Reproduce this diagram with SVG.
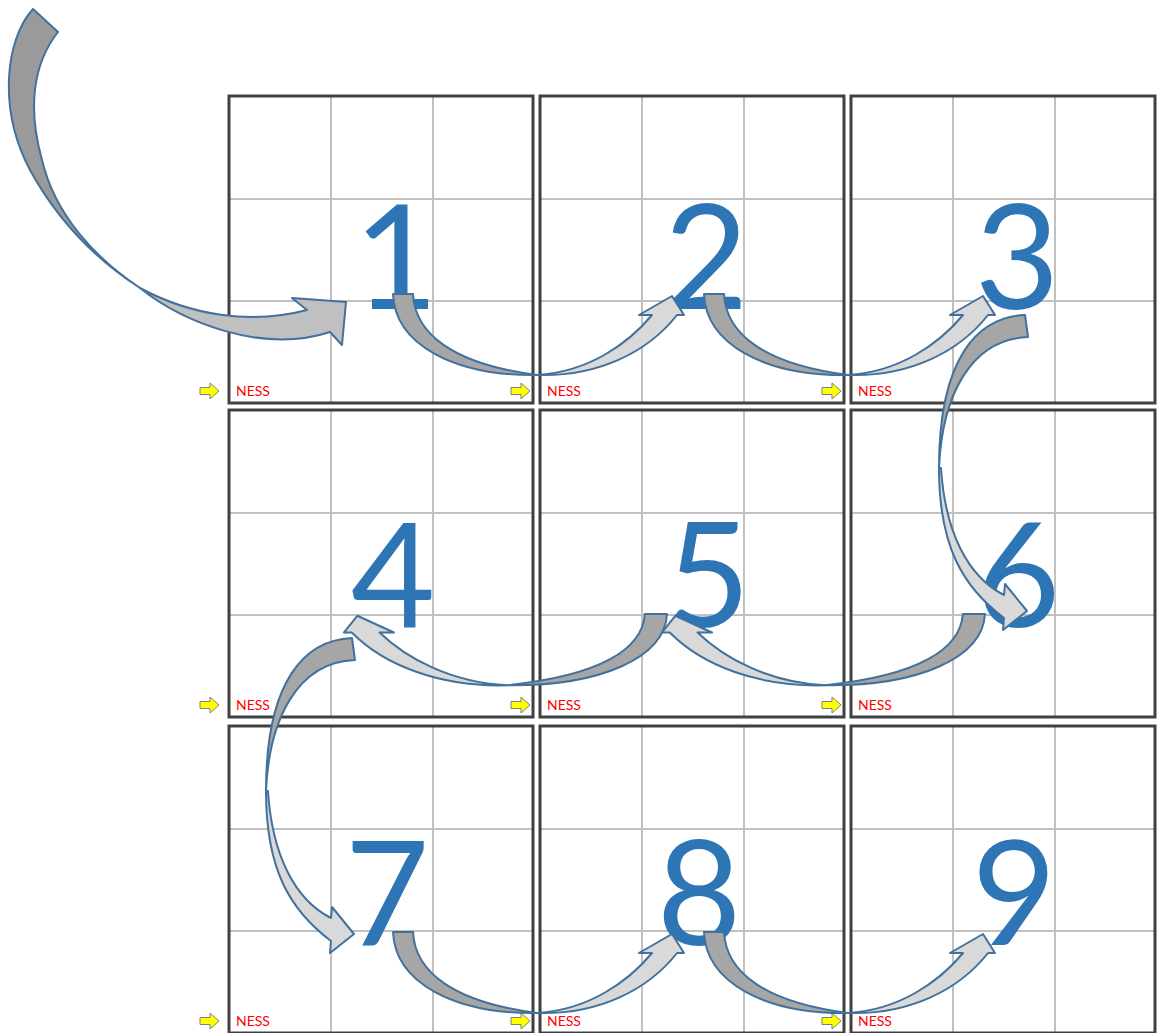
<svg xmlns="http://www.w3.org/2000/svg" width="1159" height="1033" viewBox="0 0 1159 1033">
<defs>
<style>
.grid{stroke:#c0c0c0;stroke-width:2;fill:none}
.border{stroke:#404040;stroke-width:3;fill:none}
.num{font-family:Lato,"Open Sans",sans-serif;font-size:146px;fill:#2e75b6;text-anchor:middle}
.ness{font-family:Lato,"Liberation Sans",sans-serif;font-size:14px;fill:#ff0000}
.ya{fill:#ffff00;stroke:#7f7f7f;stroke-width:1}
.dk{fill:#a6a6a6;stroke:#41719c;stroke-width:2;stroke-linejoin:round}
.lt{fill:#d9d9d9;stroke:#41719c;stroke-width:2;stroke-linejoin:round}
.dkA{fill:#9a9a9a;stroke:#41719c;stroke-width:2;stroke-linejoin:round}
.ltA{fill:#c0c0c0;stroke:#41719c;stroke-width:2;stroke-linejoin:round}
</style>
<g id="boxbase">
<path class="grid" d="M102,0V307M204,0V307M0,103H304M0,205H304"/>
<rect class="border" x="0" y="0" width="304" height="307"/>
<path class="ya" d="M-29,291.5h10v-4.5l9,8l-9,8v-4.5h-10z"/>
<text class="ness" x="7" y="300">NESS</text>
</g>
<g id="uarrow">
<path class="dk" vector-effect="non-scaling-stroke" d="M0,0 C2,50 60,82 144,81 C60,70 22,40 20,0 Z"/>
<path class="lt" vector-effect="non-scaling-stroke" d="M144,81 C205,83 255,58 284,21 L291,21 L279,2 L246,21 L259,21 C235,50 195,78 144,81 Z"/>
</g>
<g id="carrow">
<path class="dk" d="M0,0 C-47,2 -86,42 -86,153 C-83,82 -55,24 3,22 Z"/>
<path class="lt" d="M-86,153 C-86,232 -62,272 -21,303 L-22,315 L2,296 L-20,269 L-21,280 C-57,262 -80,217 -84,153 Z"/>
</g>
</defs>
<rect width="1159" height="1033" fill="#ffffff"/>
<g id="node1"><use href="#boxbase" x="229" y="96"/><text class="num" x="396" y="309">1</text></g>
<g id="node2"><use href="#boxbase" x="540" y="96"/><text class="num" x="706" y="309">2</text></g>
<g id="node3"><use href="#boxbase" x="851" y="96"/><text class="num" x="1017" y="309">3</text></g>
<g id="node4"><use href="#boxbase" x="229" y="410"/><text class="num" x="393" y="627">4</text></g>
<g id="node5"><use href="#boxbase" x="540" y="410"/><text class="num" x="708" y="627">5</text></g>
<g id="node6"><use href="#boxbase" x="851" y="410"/><text class="num" x="1018" y="627">6</text></g>
<g id="node7"><use href="#boxbase" x="229" y="726"/><text class="num" x="387" y="945">7</text></g>
<g id="node8"><use href="#boxbase" x="540" y="726"/><text class="num" x="699" y="945">8</text></g>
<g id="node9"><use href="#boxbase" x="851" y="726"/><text class="num" x="1014" y="945">9</text></g>
<g id="connectors">
<g id="start-to-1">
<path class="dkA" d="M33,9 C5,40 -2,110 30,170 C60,225 100,262 140,288 C95,258 55,215 42,160 C28,110 32,65 58,32 Z"/>
<path class="ltA" d="M140,288 C180,320 260,355 330,332 L342,345 L346,302 L292,298 L307,310 C250,325 190,315 140,288 Z"/>
</g>
<use id="a1-2" href="#uarrow" transform="translate(393,294)"/>
<use id="a2-3" href="#uarrow" transform="translate(704,294)"/>
<use id="a3-6" href="#carrow" transform="translate(1025,315)"/>
<use id="a6-5" href="#uarrow" transform="translate(985,614) scale(-1.11,0.88)"/>
<use id="a5-4" href="#uarrow" transform="translate(667,614) scale(-1.11,0.88)"/>
<use id="a4-7" href="#carrow" transform="translate(352,638)"/>
<use id="a7-8" href="#uarrow" transform="translate(393,932)"/>
<use id="a8-9" href="#uarrow" transform="translate(704,932)"/>
</g>
</svg>
